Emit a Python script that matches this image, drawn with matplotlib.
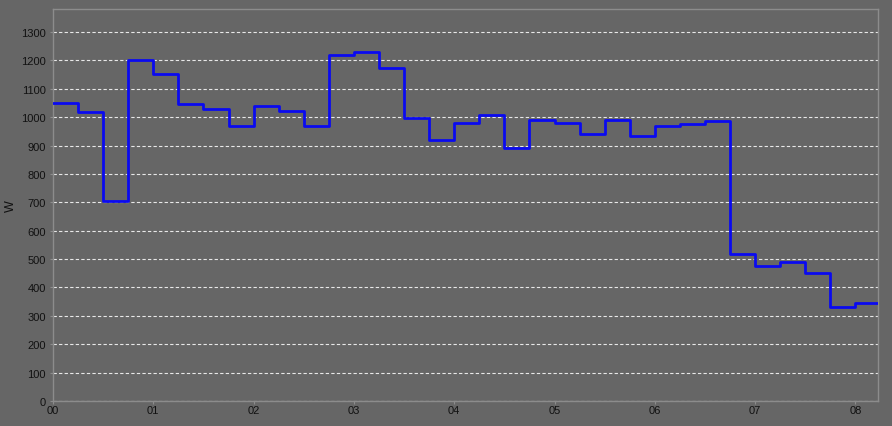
import matplotlib
matplotlib.use("Agg")
import matplotlib.pyplot as plt
import numpy as np

# Start of each 15-minute interval (hours)
times = [0.0, 0.25, 0.5, 0.75, 1.0, 1.25, 1.5, 1.75, 2.0, 2.25, 2.5, 2.75,
         3.0, 3.25, 3.5, 3.75, 4.0, 4.25, 4.5, 4.75, 5.0, 5.25, 5.5, 5.75,
         6.0, 6.25, 6.5, 6.75, 7.0, 7.25, 7.5, 7.75, 8.0]
power_w = [1049, 1017, 706, 1200, 1151, 1048, 1029, 969, 1038, 1020, 970, 1218,
           1229, 1173, 997, 919, 980, 1006, 891, 990, 980, 940, 991, 935,
           969, 976, 985, 518, 476, 491, 451, 330, 344]
x_ticks = [0, 1, 2, 3, 4, 5, 6, 7, 8]
x_tick_labels = ["00", "01", "02", "03", "04", "05", "06", "07", "08"]
y_ticks = list(range(0, 1301, 100))
x_end = 8.225

plt.rcParams['font.family'] = ['Liberation Sans', 'DejaVu Sans']

fig = plt.figure(figsize=(8.92, 4.27), dpi=100)
bg = "#666666"
fig.patch.set_facecolor(bg)
ax = fig.add_axes([53/892, 25/427, (878-53)/892, (417-25)/427])
ax.set_facecolor(bg)

xs = list(times) + [x_end]
ys = list(power_w) + [power_w[-1]]
ax.plot(xs, ys, drawstyle="steps-post", color="#0a0af0", linewidth=2.0, zorder=3)

ax.set_xlim(0, x_end)
ax.set_ylim(0, 1381)
ax.set_xticks(x_ticks)
ax.set_xticklabels(x_tick_labels)
ax.set_yticks(y_ticks)
ax.yaxis.grid(True, color="#e8e8e8", linestyle=(0, (3, 2)), linewidth=0.8)
ax.xaxis.grid(False)
for s in ax.spines.values():
    s.set_color("#8c8c8c")
    s.set_linewidth(1.0)
ax.tick_params(axis="both", colors="#8c8c8c", labelcolor="#111111",
               labelsize=8, length=2, width=0.8)
ax.tick_params(axis="x", pad=1)
ax.tick_params(axis="y", pad=3)
ax.set_ylabel("W", fontsize=9, color="#111111")
ax.yaxis.set_label_coords(-0.044, 0.5)

fig.savefig("out.png", dpi=100, facecolor=bg)
